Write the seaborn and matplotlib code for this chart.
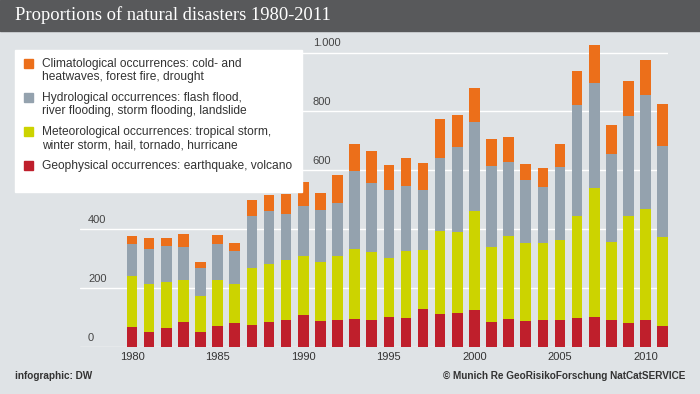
import pandas as pd
import matplotlib
matplotlib.use("Agg")
import matplotlib.pyplot as plt
import matplotlib.transforms as mtransforms
from matplotlib.patches import Rectangle
import seaborn as sns

# Data
years = list(range(1980, 2012))
geophysical = [68, 51, 65, 84, 51, 72, 81, 75, 84, 92, 108, 89, 92, 95, 92, 102,
               99, 128, 111, 115, 125, 84, 94, 88, 91, 91, 99, 102, 91, 79, 91, 72]
meteorological = [173, 162, 154, 143, 123, 155, 132, 194, 198, 202, 201, 200, 217, 237, 231, 198,
                  228, 202, 284, 276, 338, 255, 284, 266, 260, 273, 347, 436, 266, 367, 377, 301]
hydrological = [108, 119, 124, 112, 92, 122, 114, 176, 180, 157, 171, 175, 180, 266, 234, 232,
                220, 202, 248, 288, 301, 276, 250, 213, 192, 247, 376, 360, 298, 339, 388, 310]
climatological = [28, 38, 27, 44, 23, 31, 27, 54, 55, 68, 80, 59, 93, 91, 109, 86,
                  96, 94, 131, 109, 116, 92, 86, 54, 66, 78, 116, 129, 100, 119, 117, 142]

series = ["Climatological", "Hydrological", "Meteorological", "Geophysical"]
legend_labels = [
    "Climatological occurrences: cold- and\nheatwaves, forest fire, drought",
    "Hydrological occurrences: flash flood,\nriver flooding, storm flooding, landslide",
    "Meteorological occurrences: tropical storm,\nwinter storm, hail, tornado, hurricane",
    "Geophysical occurrences: earthquake, volcano",
]
colors = ["#ec6f1a", "#94a2ae", "#ccd300", "#bf1f2c"]
yticks = [0, 200, 400, 600, 800, 1000]
ytick_labels = ["0", "200", "400", "600", "800", "1.000"]
xtick_years = [1980, 1985, 1990, 1995, 2000, 2005, 2010]

df = pd.DataFrame({
    "year": [str(y) for y in years],
    "Geophysical": geophysical,
    "Meteorological": meteorological,
    "Hydrological": hydrological,
    "Climatological": climatological,
})
stack_order = ["Geophysical", "Meteorological", "Hydrological", "Climatological"]
cum = df[stack_order].cumsum(axis=1)
cum["year"] = df["year"]

bg = "#dfe3e6"
text_col = "#333333"
sns.set_theme(style="white", rc={"axes.facecolor": bg, "figure.facecolor": bg})
plt.rcParams["font.family"] = ["Liberation Sans", "DejaVu Sans"]

fig = plt.figure(figsize=(7, 3.94), dpi=100)
W, H = 700, 394
ax = fig.add_axes([80 / W, (H - 346.7) / H, 588 / W, 307.4 / H])

# stacked bars: draw totals first, lower layers on top
color_map = dict(zip(series, colors))
for name in reversed(stack_order):
    sns.barplot(data=cum, x="year", y=name, color=color_map[name], width=0.62,
                saturation=1, errorbar=None, linewidth=0, ax=ax, zorder=3)

ax.set_xlim(-3.04, 31.31)
ax.set_ylim(0, 1045)
ax.set_xlabel("")
ax.set_ylabel("")
sns.despine(ax=ax, left=True, bottom=True)

ax.set_yticks(yticks)
ax.set_yticklabels([])
ax.grid(axis="y", color="white", linewidth=1.0, zorder=1)
ax.grid(axis="x", visible=False)
ax.set_axisbelow(True)
ax.tick_params(axis="both", length=0)

ax.set_xticks([years.index(y) for y in xtick_years])
ax.set_xticklabels([str(y) for y in xtick_years], fontsize=8, color=text_col)
ax.tick_params(axis="x", pad=4)

# y labels sit above the gridlines; upper ones pushed right of the legend box
trans = mtransforms.blended_transform_factory(ax.transAxes, ax.transData)
for v, lab in zip(yticks, ytick_labels):
    xpos = 0.396 if v > 500 else 0.0136
    ax.text(xpos, v, lab, transform=trans + mtransforms.ScaledTranslation(0, 3 / 72, fig.dpi_scale_trans),
            fontsize=8, color="#444444", va="bottom", ha="left")

# title bar
fig.patches.append(Rectangle((0, 1 - 30.7 / H), 1, 30.7 / H, transform=fig.transFigure,
                             color="#58595b", zorder=0))
fig.text(15 / W, 1 - 15.5 / H, "Proportions of natural disasters 1980-2011",
         family="Liberation Serif", fontsize=13.3, color="white", va="center", ha="left")

# legend box
fig.patches.append(Rectangle((15 / W, 1 - 192 / H), 287 / W, 142 / H, transform=fig.transFigure,
                             color="white", zorder=1))
for i, (lab, c) in enumerate(zip(legend_labels, colors)):
    top = 59 + i * 34
    fig.patches.append(Rectangle((24 / W, 1 - (top + 9) / H), 9 / W, 9 / H,
                                 transform=fig.transFigure, color=c, zorder=2))
    fig.text(41.7 / W, 1 - (top - 1) / H, lab, fontsize=8.65, color=text_col,
             va="top", ha="left", linespacing=1.15, zorder=3)

# footer
fig.text(15 / W, 1 - 376 / H, "infographic: DW", fontsize=7.2, weight="bold",
         color=text_col, va="center", ha="left")
fig.text(685 / W, 1 - 376 / H, "\u00a9 Munich Re GeoRisikoForschung NatCatSERVICE", fontsize=7.2,
         weight="bold", color=text_col, va="center", ha="right")

fig.savefig("out.png", dpi=100)
